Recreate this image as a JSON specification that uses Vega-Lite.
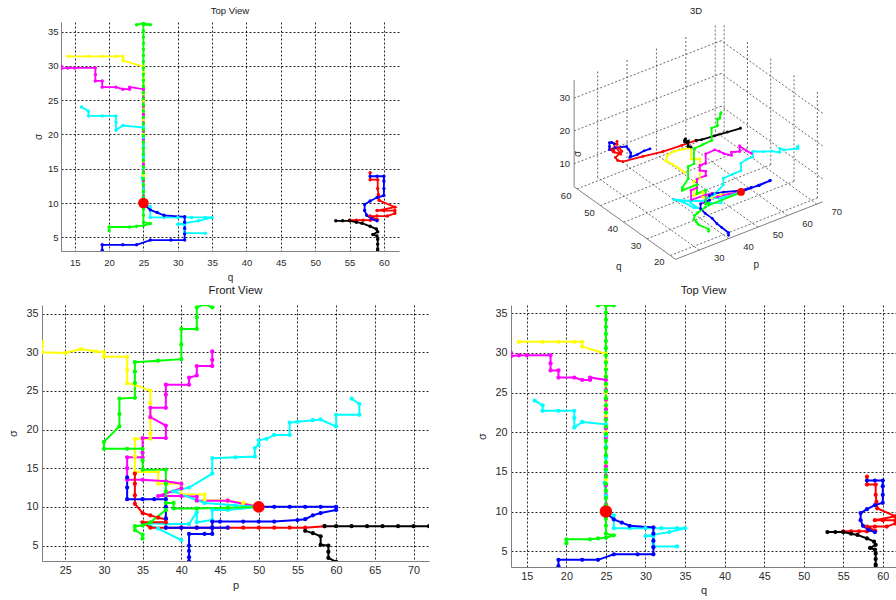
{
"$schema":"https://vega.github.io/schema/vega-lite/v6.json",
"background":"white",
"padding":{"left":0,"top":5,"right":0,"bottom":0},
"config":{"view":{"stroke":null},"font":"Liberation Sans",
"axis":{"grid":true,"gridColor":"#000000","gridDash":[2,2],"gridOpacity":0.85,"gridWidth":1,"ticks":false,"domainColor":"#808080","domainWidth":1,"labelColor":"#2b2b2b","titleColor":"#2b2b2b","titleFontWeight":"normal","labelFont":"Liberation Sans","titleFont":"Liberation Sans"},
"title":{"font":"Liberation Sans","fontWeight":"normal","color":"#1a1a1a","anchor":"middle"}},
"datasets":{
"goal":[{"p":50,"q":25,"s":10}],
"none":[],
"front":[
{"k":"y1","c":"yellow","i":0,"p":22,"s":31.3},{"k":"y1","c":"yellow","i":1,"p":22,"s":30.8},{"k":"y1","c":"yellow","i":2,"p":22,"s":30},{"k":"y1","c":"yellow","i":3,"p":25,"s":29.9},{"k":"y1","c":"yellow","i":4,"p":27,"s":30.4},{"k":"y1","c":"yellow","i":5,"p":29,"s":30.1},{"k":"y1","c":"yellow","i":6,"p":30,"s":30},{"k":"y1","c":"yellow","i":7,"p":30,"s":29.4},{"k":"y1","c":"yellow","i":8,"p":33,"s":29.4},{"k":"y1","c":"yellow","i":9,"p":33,"s":27.7},{"k":"y1","c":"yellow","i":10,"p":33,"s":26},{"k":"y1","c":"yellow","i":11,"p":34,"s":25.8},{"k":"y1","c":"yellow","i":12,"p":36,"s":25},{"k":"y1","c":"yellow","i":13,"p":36,"s":23.4},{"k":"y1","c":"yellow","i":14,"p":36,"s":21.5},{"k":"y1","c":"yellow","i":15,"p":36,"s":19.5},{"k":"y1","c":"yellow","i":16,"p":36,"s":18.8},{"k":"y1","c":"yellow","i":17,"p":34,"s":18.8},{"k":"y1","c":"yellow","i":18,"p":34,"s":16.5},{"k":"y1","c":"yellow","i":19,"p":34,"s":14.5},{"k":"y1","c":"yellow","i":20,"p":37,"s":14.5},{"k":"y1","c":"yellow","i":21,"p":37,"s":13},{"k":"y1","c":"yellow","i":22,"p":40,"s":13},{"k":"y1","c":"yellow","i":23,"p":40,"s":12.4},{"k":"y1","c":"yellow","i":24,"p":40,"s":11.6},{"k":"y1","c":"yellow","i":25,"p":43,"s":11.6},{"k":"y1","c":"yellow","i":26,"p":43,"s":10.9},{"k":"y1","c":"yellow","i":27,"p":46,"s":10.8},{"k":"y1","c":"yellow","i":28,"p":48,"s":10.5},{"k":"y1","c":"yellow","i":29,"p":50,"s":10},
{"k":"m1","c":"magenta","i":0,"p":44,"s":30.1},{"k":"m1","c":"magenta","i":1,"p":44,"s":29},{"k":"m1","c":"magenta","i":2,"p":44,"s":28.2},{"k":"m1","c":"magenta","i":3,"p":42,"s":28.2},{"k":"m1","c":"magenta","i":4,"p":42,"s":27},{"k":"m1","c":"magenta","i":5,"p":41,"s":26.7},{"k":"m1","c":"magenta","i":6,"p":41,"s":25.8},{"k":"m1","c":"magenta","i":7,"p":38,"s":25.8},{"k":"m1","c":"magenta","i":8,"p":38,"s":24.5},{"k":"m1","c":"magenta","i":9,"p":38,"s":22.8},{"k":"m1","c":"magenta","i":10,"p":36,"s":22.8},{"k":"m1","c":"magenta","i":11,"p":36,"s":21.6},{"k":"m1","c":"magenta","i":12,"p":38,"s":20.5},{"k":"m1","c":"magenta","i":13,"p":38,"s":18.9},{"k":"m1","c":"magenta","i":14,"p":35,"s":18.9},{"k":"m1","c":"magenta","i":15,"p":35,"s":17},{"k":"m1","c":"magenta","i":16,"p":35,"s":16.4},{"k":"m1","c":"magenta","i":17,"p":33,"s":16.4},{"k":"m1","c":"magenta","i":18,"p":33,"s":15},{"k":"m1","c":"magenta","i":19,"p":33,"s":13.5},{"k":"m1","c":"magenta","i":20,"p":35,"s":13.5},{"k":"m1","c":"magenta","i":21,"p":38,"s":13.3},{"k":"m1","c":"magenta","i":22,"p":40,"s":13},{"k":"m1","c":"magenta","i":23,"p":40,"s":12.4},{"k":"m1","c":"magenta","i":24,"p":37,"s":11.4},{"k":"m1","c":"magenta","i":25,"p":40,"s":11.4},{"k":"m1","c":"magenta","i":26,"p":42,"s":11.3},{"k":"m1","c":"magenta","i":27,"p":42,"s":10.8},{"k":"m1","c":"magenta","i":28,"p":46,"s":10.8},{"k":"m1","c":"magenta","i":29,"p":50,"s":10},
{"k":"c1","c":"cyan","i":0,"p":62,"s":24},{"k":"c1","c":"cyan","i":1,"p":63,"s":23.3},{"k":"c1","c":"cyan","i":2,"p":63,"s":21.9},{"k":"c1","c":"cyan","i":3,"p":60,"s":21.9},{"k":"c1","c":"cyan","i":4,"p":60,"s":20.4},{"k":"c1","c":"cyan","i":5,"p":58,"s":21.3},{"k":"c1","c":"cyan","i":6,"p":57,"s":21.2},{"k":"c1","c":"cyan","i":7,"p":55,"s":21},{"k":"c1","c":"cyan","i":8,"p":54,"s":20.9},{"k":"c1","c":"cyan","i":9,"p":54,"s":19.3},{"k":"c1","c":"cyan","i":10,"p":52,"s":19.3},{"k":"c1","c":"cyan","i":11,"p":51,"s":18.8},{"k":"c1","c":"cyan","i":12,"p":50,"s":18.6},{"k":"c1","c":"cyan","i":13,"p":50,"s":18},{"k":"c1","c":"cyan","i":14,"p":49.5,"s":17.6},{"k":"c1","c":"cyan","i":15,"p":49.5,"s":16.5},{"k":"c1","c":"cyan","i":16,"p":47,"s":16.4},{"k":"c1","c":"cyan","i":17,"p":44,"s":16.3},{"k":"c1","c":"cyan","i":18,"p":44,"s":14.3},{"k":"c1","c":"cyan","i":19,"p":41,"s":12.5},{"k":"c1","c":"cyan","i":20,"p":39,"s":12},{"k":"c1","c":"cyan","i":21,"p":43,"s":10.5},{"k":"c1","c":"cyan","i":22,"p":47,"s":10.2},{"k":"c1","c":"cyan","i":23,"p":50,"s":10},
{"k":"c2","c":"cyan","i":0,"p":50,"s":10},{"k":"c2","c":"cyan","i":1,"p":46,"s":9.6},{"k":"c2","c":"cyan","i":2,"p":44,"s":9.6},{"k":"c2","c":"cyan","i":3,"p":44,"s":8.3},{"k":"c2","c":"cyan","i":4,"p":42,"s":8},{"k":"c2","c":"cyan","i":5,"p":42,"s":9.3},{"k":"c2","c":"cyan","i":6,"p":41,"s":7.8},{"k":"c2","c":"cyan","i":7,"p":38,"s":7.8},{"k":"c2","c":"cyan","i":8,"p":35,"s":7.9},{"k":"c2","c":"cyan","i":9,"p":37,"s":7.2},{"k":"c2","c":"cyan","i":10,"p":40,"s":5.7},
{"k":"r1","c":"red","i":0,"p":34,"s":14.3},{"k":"r1","c":"red","i":1,"p":34,"s":13},{"k":"r1","c":"red","i":2,"p":34,"s":11.5},{"k":"r1","c":"red","i":3,"p":34,"s":10.4},{"k":"r1","c":"red","i":4,"p":35,"s":9.2},{"k":"r1","c":"red","i":5,"p":36,"s":8.9},{"k":"r1","c":"red","i":6,"p":37,"s":8.6},{"k":"r1","c":"red","i":7,"p":38,"s":8.4},{"k":"r1","c":"red","i":8,"p":38,"s":8},{"k":"r1","c":"red","i":9,"p":35,"s":8},{"k":"r1","c":"red","i":10,"p":36,"s":7.3},{"k":"r1","c":"red","i":11,"p":38,"s":7.3},{"k":"r1","c":"red","i":12,"p":40,"s":7.3},{"k":"r1","c":"red","i":13,"p":42,"s":7.3},{"k":"r1","c":"red","i":14,"p":44,"s":7.3},{"k":"r1","c":"red","i":15,"p":46,"s":7.3},{"k":"r1","c":"red","i":16,"p":48,"s":7.3},{"k":"r1","c":"red","i":17,"p":50,"s":7.3},{"k":"r1","c":"red","i":18,"p":52,"s":7.3},{"k":"r1","c":"red","i":19,"p":54,"s":7.3},{"k":"r1","c":"red","i":20,"p":56,"s":7.3},{"k":"r1","c":"red","i":21,"p":58.5,"s":7.5},
{"k":"k1","c":"black","i":0,"p":58.5,"s":7.5},{"k":"k1","c":"black","i":1,"p":60,"s":7.5},{"k":"k1","c":"black","i":2,"p":62,"s":7.5},{"k":"k1","c":"black","i":3,"p":64,"s":7.5},{"k":"k1","c":"black","i":4,"p":66,"s":7.5},{"k":"k1","c":"black","i":5,"p":68,"s":7.5},{"k":"k1","c":"black","i":6,"p":70,"s":7.5},{"k":"k1","c":"black","i":7,"p":72,"s":7.5},
{"k":"k2","c":"black","i":0,"p":56,"s":6.9},{"k":"k2","c":"black","i":1,"p":57,"s":6.6},{"k":"k2","c":"black","i":2,"p":58,"s":6.2},{"k":"k2","c":"black","i":3,"p":58,"s":5.1},{"k":"k2","c":"black","i":4,"p":59,"s":5},{"k":"k2","c":"black","i":5,"p":59,"s":4.2},{"k":"k2","c":"black","i":6,"p":59,"s":3.4},{"k":"k2","c":"black","i":7,"p":60,"s":2.9},
{"k":"b1","c":"blue","i":0,"p":41,"s":3},{"k":"b1","c":"blue","i":1,"p":41,"s":3.5},{"k":"b1","c":"blue","i":2,"p":41,"s":4.3},{"k":"b1","c":"blue","i":3,"p":41,"s":5},{"k":"b1","c":"blue","i":4,"p":41,"s":6.5},{"k":"b1","c":"blue","i":5,"p":43,"s":6.5},{"k":"b1","c":"blue","i":6,"p":44,"s":6.5},{"k":"b1","c":"blue","i":7,"p":44,"s":7.3},{"k":"b1","c":"blue","i":8,"p":44,"s":8.1},{"k":"b1","c":"blue","i":9,"p":45,"s":8.1},{"k":"b1","c":"blue","i":10,"p":48,"s":8.1},{"k":"b1","c":"blue","i":11,"p":50,"s":8.1},{"k":"b1","c":"blue","i":12,"p":52,"s":8.1},{"k":"b1","c":"blue","i":13,"p":55,"s":8.3},{"k":"b1","c":"blue","i":14,"p":56,"s":8.4},{"k":"b1","c":"blue","i":15,"p":57,"s":8.9},{"k":"b1","c":"blue","i":16,"p":58,"s":9.2},{"k":"b1","c":"blue","i":17,"p":60,"s":9.6},{"k":"b1","c":"blue","i":18,"p":60,"s":10},{"k":"b1","c":"blue","i":19,"p":58,"s":10},{"k":"b1","c":"blue","i":20,"p":56,"s":10},{"k":"b1","c":"blue","i":21,"p":54,"s":10},{"k":"b1","c":"blue","i":22,"p":52,"s":10},{"k":"b1","c":"blue","i":23,"p":50,"s":10},
{"k":"b2","c":"blue","i":0,"p":33,"s":13.8},{"k":"b2","c":"blue","i":1,"p":33,"s":12.5},{"k":"b2","c":"blue","i":2,"p":33,"s":11},{"k":"b2","c":"blue","i":3,"p":35,"s":11},{"k":"b2","c":"blue","i":4,"p":36.5,"s":11},{"k":"b2","c":"blue","i":5,"p":38,"s":11},{"k":"b2","c":"blue","i":6,"p":38,"s":10},{"k":"b2","c":"blue","i":7,"p":38,"s":8.5},{"k":"b2","c":"blue","i":8,"p":38,"s":7.3},{"k":"b2","c":"blue","i":9,"p":40,"s":7.3},{"k":"b2","c":"blue","i":10,"p":42,"s":7.3},{"k":"b2","c":"blue","i":11,"p":44,"s":7.3},{"k":"b2","c":"blue","i":12,"p":46,"s":7.3},
{"k":"g1","c":"green","i":0,"p":44,"s":35.8},{"k":"g1","c":"green","i":1,"p":43,"s":36.2},{"k":"g1","c":"green","i":2,"p":42,"s":35.8},{"k":"g1","c":"green","i":3,"p":42,"s":34.5},{"k":"g1","c":"green","i":4,"p":42,"s":33},{"k":"g1","c":"green","i":5,"p":40,"s":33},{"k":"g1","c":"green","i":6,"p":40,"s":31},{"k":"g1","c":"green","i":7,"p":40,"s":29.1},{"k":"g1","c":"green","i":8,"p":37,"s":28.9},{"k":"g1","c":"green","i":9,"p":34,"s":28.7},{"k":"g1","c":"green","i":10,"p":34,"s":27.5},{"k":"g1","c":"green","i":11,"p":34,"s":26},{"k":"g1","c":"green","i":12,"p":34,"s":24.1},{"k":"g1","c":"green","i":13,"p":32,"s":24},{"k":"g1","c":"green","i":14,"p":32,"s":22},{"k":"g1","c":"green","i":15,"p":32,"s":20.4},{"k":"g1","c":"green","i":16,"p":30,"s":18.4},{"k":"g1","c":"green","i":17,"p":30,"s":17.5},{"k":"g1","c":"green","i":18,"p":33,"s":17.5},{"k":"g1","c":"green","i":19,"p":35,"s":17.5},{"k":"g1","c":"green","i":20,"p":35,"s":16},{"k":"g1","c":"green","i":21,"p":35,"s":14.8},{"k":"g1","c":"green","i":22,"p":38,"s":14.8},{"k":"g1","c":"green","i":23,"p":38,"s":13},{"k":"g1","c":"green","i":24,"p":38,"s":12},{"k":"g1","c":"green","i":25,"p":38,"s":10.5},{"k":"g1","c":"green","i":26,"p":39,"s":10.5},{"k":"g1","c":"green","i":27,"p":39,"s":9.8},{"k":"g1","c":"green","i":28,"p":42,"s":9.8},{"k":"g1","c":"green","i":29,"p":46,"s":9.9},{"k":"g1","c":"green","i":30,"p":50,"s":10},
{"k":"g2","c":"green","i":0,"p":38,"s":9.6},{"k":"g2","c":"green","i":1,"p":36,"s":8},{"k":"g2","c":"green","i":2,"p":35,"s":7.6},{"k":"g2","c":"green","i":3,"p":34,"s":7.5},{"k":"g2","c":"green","i":4,"p":34,"s":7},{"k":"g2","c":"green","i":5,"p":35,"s":6.4},{"k":"g2","c":"green","i":6,"p":35,"s":5.9}
],
"top":[
{"k":"ty","c":"yellow","i":0,"q":14,"s":31.4},{"k":"ty","c":"yellow","i":1,"q":17,"s":31.4},{"k":"ty","c":"yellow","i":2,"q":19,"s":31.4},{"k":"ty","c":"yellow","i":3,"q":21,"s":31.4},{"k":"ty","c":"yellow","i":4,"q":22,"s":31.4},{"k":"ty","c":"yellow","i":5,"q":22,"s":30.8},{"k":"ty","c":"yellow","i":6,"q":25,"s":29.9},{"k":"ty","c":"yellow","i":7,"q":25,"s":29},{"k":"ty","c":"yellow","i":8,"q":25,"s":28},{"k":"ty","c":"yellow","i":9,"q":25,"s":27},{"k":"ty","c":"yellow","i":10,"q":25,"s":26},{"k":"ty","c":"yellow","i":11,"q":25,"s":25},{"k":"ty","c":"yellow","i":12,"q":25,"s":24},{"k":"ty","c":"yellow","i":13,"q":25,"s":23},{"k":"ty","c":"yellow","i":14,"q":25,"s":22},{"k":"ty","c":"yellow","i":15,"q":25,"s":20},{"k":"ty","c":"yellow","i":16,"q":25,"s":18},{"k":"ty","c":"yellow","i":17,"q":25,"s":16},{"k":"ty","c":"yellow","i":18,"q":25,"s":14},{"k":"ty","c":"yellow","i":19,"q":25,"s":12},{"k":"ty","c":"yellow","i":20,"q":25,"s":10},
{"k":"tm","c":"magenta","i":0,"q":13,"s":30},{"k":"tm","c":"magenta","i":1,"q":13,"s":29.6},{"k":"tm","c":"magenta","i":2,"q":14,"s":29.7},{"k":"tm","c":"magenta","i":3,"q":15,"s":29.7},{"k":"tm","c":"magenta","i":4,"q":18,"s":29.7},{"k":"tm","c":"magenta","i":5,"q":18,"s":28.7},{"k":"tm","c":"magenta","i":6,"q":18,"s":27.8},{"k":"tm","c":"magenta","i":7,"q":19,"s":27.8},{"k":"tm","c":"magenta","i":8,"q":19,"s":26.9},{"k":"tm","c":"magenta","i":9,"q":21,"s":26.9},{"k":"tm","c":"magenta","i":10,"q":22,"s":26.6},{"k":"tm","c":"magenta","i":11,"q":23,"s":26.6},{"k":"tm","c":"magenta","i":12,"q":23,"s":26.9},{"k":"tm","c":"magenta","i":13,"q":25,"s":26.6},{"k":"tm","c":"magenta","i":14,"q":25,"s":25.3},{"k":"tm","c":"magenta","i":15,"q":25,"s":24.1},{"k":"tm","c":"magenta","i":16,"q":25,"s":22.9},{"k":"tm","c":"magenta","i":17,"q":25,"s":21.7},{"k":"tm","c":"magenta","i":18,"q":25,"s":20.5},{"k":"tm","c":"magenta","i":19,"q":25,"s":19.3},{"k":"tm","c":"magenta","i":20,"q":25,"s":18.1},{"k":"tm","c":"magenta","i":21,"q":25,"s":16.9},{"k":"tm","c":"magenta","i":22,"q":25,"s":15.7},{"k":"tm","c":"magenta","i":23,"q":25,"s":14.5},{"k":"tm","c":"magenta","i":24,"q":25,"s":13.3},{"k":"tm","c":"magenta","i":25,"q":25,"s":12.1},{"k":"tm","c":"magenta","i":26,"q":25,"s":10.9},{"k":"tm","c":"magenta","i":27,"q":25,"s":10},
{"k":"tc1","c":"cyan","i":0,"q":16,"s":24},{"k":"tc1","c":"cyan","i":1,"q":17,"s":23.4},{"k":"tc1","c":"cyan","i":2,"q":17,"s":22.7},{"k":"tc1","c":"cyan","i":3,"q":19,"s":22.7},{"k":"tc1","c":"cyan","i":4,"q":21,"s":22.7},{"k":"tc1","c":"cyan","i":5,"q":21,"s":21.8},{"k":"tc1","c":"cyan","i":6,"q":21,"s":20.6},{"k":"tc1","c":"cyan","i":7,"q":22,"s":21.3},{"k":"tc1","c":"cyan","i":8,"q":25,"s":21},{"k":"tc1","c":"cyan","i":9,"q":25,"s":19.6},{"k":"tc1","c":"cyan","i":10,"q":25,"s":18.2},{"k":"tc1","c":"cyan","i":11,"q":25,"s":16.8},{"k":"tc1","c":"cyan","i":12,"q":25,"s":15.2},{"k":"tc1","c":"cyan","i":13,"q":24.8,"s":13.6},{"k":"tc1","c":"cyan","i":14,"q":25,"s":12},{"k":"tc1","c":"cyan","i":15,"q":25,"s":10},
{"k":"tc2","c":"cyan","i":0,"q":25,"s":10},{"k":"tc2","c":"cyan","i":1,"q":26,"s":9.5},{"k":"tc2","c":"cyan","i":2,"q":26,"s":7.9},{"k":"tc2","c":"cyan","i":3,"q":28,"s":7.9},{"k":"tc2","c":"cyan","i":4,"q":30,"s":7.9},{"k":"tc2","c":"cyan","i":5,"q":32,"s":7.9},{"k":"tc2","c":"cyan","i":6,"q":34,"s":7.9},{"k":"tc2","c":"cyan","i":7,"q":35,"s":7.9},{"k":"tc2","c":"cyan","i":8,"q":33,"s":7.4},{"k":"tc2","c":"cyan","i":9,"q":30,"s":6.9},{"k":"tc2","c":"cyan","i":10,"q":31,"s":6.9},{"k":"tc2","c":"cyan","i":11,"q":31,"s":6.2},{"k":"tc2","c":"cyan","i":12,"q":31,"s":5.6},{"k":"tc2","c":"cyan","i":13,"q":34,"s":5.6},
{"k":"tr","c":"red","i":0,"q":55,"s":7.5},{"k":"tr","c":"red","i":1,"q":56,"s":7.5},{"k":"tr","c":"red","i":2,"q":57,"s":7.5},{"k":"tr","c":"red","i":3,"q":58,"s":7.5},{"k":"tr","c":"red","i":4,"q":59,"s":7.6},{"k":"tr","c":"red","i":5,"q":58,"s":8.1},{"k":"tr","c":"red","i":6,"q":59,"s":8.1},{"k":"tr","c":"red","i":7,"q":60.5,"s":8.1},{"k":"tr","c":"red","i":8,"q":61.6,"s":8.5},{"k":"tr","c":"red","i":9,"q":61.6,"s":8.9},{"k":"tr","c":"red","i":10,"q":60,"s":8.9},{"k":"tr","c":"red","i":11,"q":59,"s":8.9},{"k":"tr","c":"red","i":12,"q":61.6,"s":9.4},{"k":"tr","c":"red","i":13,"q":59.3,"s":10.4},{"k":"tr","c":"red","i":14,"q":59.2,"s":11.2},{"k":"tr","c":"red","i":15,"q":59.1,"s":12.1},{"k":"tr","c":"red","i":16,"q":59.1,"s":13.4},{"k":"tr","c":"red","i":17,"q":58,"s":13.4},{"k":"tr","c":"red","i":18,"q":58,"s":14.4},
{"k":"tk","c":"black","i":0,"q":53,"s":7.4},{"k":"tk","c":"black","i":1,"q":54,"s":7.4},{"k":"tk","c":"black","i":2,"q":55,"s":7.4},{"k":"tk","c":"black","i":3,"q":56,"s":7.2},{"k":"tk","c":"black","i":4,"q":56.8,"s":7.05},{"k":"tk","c":"black","i":5,"q":58,"s":6.6},{"k":"tk","c":"black","i":6,"q":58.9,"s":6.2},{"k":"tk","c":"black","i":7,"q":59.1,"s":5.8},{"k":"tk","c":"black","i":8,"q":58.4,"s":5.4},{"k":"tk","c":"black","i":9,"q":59,"s":5.2},{"k":"tk","c":"black","i":10,"q":59.1,"s":4.7},{"k":"tk","c":"black","i":11,"q":59.1,"s":4},{"k":"tk","c":"black","i":12,"q":59.1,"s":3.3},{"k":"tk","c":"black","i":13,"q":59.1,"s":3},
{"k":"tb1","c":"blue","i":0,"q":19,"s":3.1},{"k":"tb1","c":"blue","i":1,"q":19,"s":3.9},{"k":"tb1","c":"blue","i":2,"q":22,"s":3.9},{"k":"tb1","c":"blue","i":3,"q":24,"s":3.9},{"k":"tb1","c":"blue","i":4,"q":26,"s":4.6},{"k":"tb1","c":"blue","i":5,"q":29,"s":4.6},{"k":"tb1","c":"blue","i":6,"q":31,"s":4.6},{"k":"tb1","c":"blue","i":7,"q":31,"s":5.5},{"k":"tb1","c":"blue","i":8,"q":31,"s":6.3},{"k":"tb1","c":"blue","i":9,"q":31,"s":7.2},{"k":"tb1","c":"blue","i":10,"q":31,"s":8},{"k":"tb1","c":"blue","i":11,"q":28,"s":8.2},{"k":"tb1","c":"blue","i":12,"q":27,"s":8.6},{"k":"tb1","c":"blue","i":13,"q":26,"s":9},{"k":"tb1","c":"blue","i":14,"q":25.3,"s":9.6},{"k":"tb1","c":"blue","i":15,"q":25,"s":10},
{"k":"tb2","c":"blue","i":0,"q":59,"s":7.4},{"k":"tb2","c":"blue","i":1,"q":58.2,"s":7.7},{"k":"tb2","c":"blue","i":2,"q":57.5,"s":8.2},{"k":"tb2","c":"blue","i":3,"q":57.2,"s":8.9},{"k":"tb2","c":"blue","i":4,"q":57.2,"s":9.8},{"k":"tb2","c":"blue","i":5,"q":58,"s":10.3},{"k":"tb2","c":"blue","i":6,"q":59,"s":10.8},{"k":"tb2","c":"blue","i":7,"q":60,"s":11.1},{"k":"tb2","c":"blue","i":8,"q":60,"s":12.1},{"k":"tb2","c":"blue","i":9,"q":60,"s":13.2},{"k":"tb2","c":"blue","i":10,"q":60,"s":13.9},{"k":"tb2","c":"blue","i":11,"q":59,"s":13.9},{"k":"tb2","c":"blue","i":12,"q":58,"s":13.9},
{"k":"tg","c":"green","i":0,"q":24,"s":36},{"k":"tg","c":"green","i":1,"q":25,"s":36.2},{"k":"tg","c":"green","i":2,"q":26,"s":36},{"k":"tg","c":"green","i":3,"q":25,"s":36},{"k":"tg","c":"green","i":4,"q":25,"s":35.1},{"k":"tg","c":"green","i":5,"q":25,"s":34.2},{"k":"tg","c":"green","i":6,"q":25,"s":33.3},{"k":"tg","c":"green","i":7,"q":25,"s":32.4},{"k":"tg","c":"green","i":8,"q":25,"s":31.5},{"k":"tg","c":"green","i":9,"q":25,"s":30.6},{"k":"tg","c":"green","i":10,"q":25,"s":29.7},{"k":"tg","c":"green","i":11,"q":25,"s":28.8},{"k":"tg","c":"green","i":12,"q":25,"s":27.9},{"k":"tg","c":"green","i":13,"q":25,"s":27},{"k":"tg","c":"green","i":14,"q":25,"s":26.1},{"k":"tg","c":"green","i":15,"q":25,"s":25.2},{"k":"tg","c":"green","i":16,"q":25,"s":24.3},{"k":"tg","c":"green","i":17,"q":25,"s":23.4},{"k":"tg","c":"green","i":18,"q":25,"s":22.5},{"k":"tg","c":"green","i":19,"q":25,"s":21.6},{"k":"tg","c":"green","i":20,"q":25,"s":20.7},{"k":"tg","c":"green","i":21,"q":25,"s":19.8},{"k":"tg","c":"green","i":22,"q":25,"s":18.9},{"k":"tg","c":"green","i":23,"q":25,"s":18},{"k":"tg","c":"green","i":24,"q":25,"s":17.1},{"k":"tg","c":"green","i":25,"q":25,"s":16.2},{"k":"tg","c":"green","i":26,"q":25,"s":15.3},{"k":"tg","c":"green","i":27,"q":25,"s":14.4},{"k":"tg","c":"green","i":28,"q":25,"s":13.5},{"k":"tg","c":"green","i":29,"q":25,"s":12.6},{"k":"tg","c":"green","i":30,"q":25,"s":11.7},{"k":"tg","c":"green","i":31,"q":25,"s":10.8},{"k":"tg","c":"green","i":32,"q":25,"s":10},{"k":"tg","c":"green","i":33,"q":25,"s":9.1},{"k":"tg","c":"green","i":34,"q":25,"s":8.2},{"k":"tg","c":"green","i":35,"q":25,"s":7.2},{"k":"tg","c":"green","i":36,"q":26,"s":7},{"k":"tg","c":"green","i":37,"q":25,"s":6.7},{"k":"tg","c":"green","i":38,"q":24,"s":6.6},{"k":"tg","c":"green","i":39,"q":23,"s":6.5},{"k":"tg","c":"green","i":40,"q":20,"s":6.5},{"k":"tg","c":"green","i":41,"q":20,"s":6}
],
"b3":[
{"set":"tr","k":"dy","c":"yellow","i":0,"p":22,"q":14,"s":31.4},{"set":"tr","k":"dy","c":"yellow","i":1,"p":22,"q":17,"s":31.4},{"set":"tr","k":"dy","c":"yellow","i":2,"p":22,"q":19,"s":31.3},{"set":"tr","k":"dy","c":"yellow","i":3,"p":22,"q":21,"s":31},{"set":"tr","k":"dy","c":"yellow","i":4,"p":22,"q":22,"s":30.8},{"set":"tr","k":"dy","c":"yellow","i":5,"p":25,"q":25,"s":30},{"set":"tr","k":"dy","c":"yellow","i":6,"p":27,"q":25,"s":30.4},{"set":"tr","k":"dy","c":"yellow","i":7,"p":30,"q":25,"s":30},{"set":"tr","k":"dy","c":"yellow","i":8,"p":33,"q":25,"s":29.4},{"set":"tr","k":"dy","c":"yellow","i":9,"p":33,"q":25,"s":26},{"set":"tr","k":"dy","c":"yellow","i":10,"p":36,"q":25,"s":25},{"set":"tr","k":"dy","c":"yellow","i":11,"p":36,"q":25,"s":19},{"set":"tr","k":"dy","c":"yellow","i":12,"p":34,"q":25,"s":18.8},{"set":"tr","k":"dy","c":"yellow","i":13,"p":34,"q":25,"s":14.5},{"set":"tr","k":"dy","c":"yellow","i":14,"p":37,"q":25,"s":14.5},{"set":"tr","k":"dy","c":"yellow","i":15,"p":37,"q":25,"s":13},{"set":"tr","k":"dy","c":"yellow","i":16,"p":40,"q":25,"s":13},{"set":"tr","k":"dy","c":"yellow","i":17,"p":40,"q":25,"s":11.6},{"set":"tr","k":"dy","c":"yellow","i":18,"p":43,"q":25,"s":11.6},{"set":"tr","k":"dy","c":"yellow","i":19,"p":46,"q":25,"s":10.8},{"set":"tr","k":"dy","c":"yellow","i":20,"p":50,"q":25,"s":10},
{"set":"tr","k":"dm","c":"magenta","i":0,"p":44,"q":13,"s":30},{"set":"tr","k":"dm","c":"magenta","i":1,"p":44,"q":15,"s":29.7},{"set":"tr","k":"dm","c":"magenta","i":2,"p":44,"q":18,"s":29.7},{"set":"tr","k":"dm","c":"magenta","i":3,"p":44,"q":18,"s":28},{"set":"tr","k":"dm","c":"magenta","i":4,"p":42,"q":19,"s":28},{"set":"tr","k":"dm","c":"magenta","i":5,"p":42,"q":19,"s":27},{"set":"tr","k":"dm","c":"magenta","i":6,"p":41,"q":21,"s":26.9},{"set":"tr","k":"dm","c":"magenta","i":7,"p":41,"q":23,"s":26.6},{"set":"tr","k":"dm","c":"magenta","i":8,"p":41,"q":25,"s":26},{"set":"tr","k":"dm","c":"magenta","i":9,"p":38,"q":25,"s":25.8},{"set":"tr","k":"dm","c":"magenta","i":10,"p":38,"q":25,"s":23},{"set":"tr","k":"dm","c":"magenta","i":11,"p":36,"q":25,"s":23},{"set":"tr","k":"dm","c":"magenta","i":12,"p":36,"q":25,"s":21.5},{"set":"tr","k":"dm","c":"magenta","i":13,"p":38,"q":25,"s":20.5},{"set":"tr","k":"dm","c":"magenta","i":14,"p":38,"q":25,"s":19.2},{"set":"tr","k":"dm","c":"magenta","i":15,"p":35,"q":25,"s":19.2},{"set":"tr","k":"dm","c":"magenta","i":16,"p":35,"q":25,"s":16.5},{"set":"tr","k":"dm","c":"magenta","i":17,"p":33,"q":25,"s":16.5},{"set":"tr","k":"dm","c":"magenta","i":18,"p":33,"q":25,"s":13.5},{"set":"tr","k":"dm","c":"magenta","i":19,"p":38,"q":25,"s":13.3},{"set":"tr","k":"dm","c":"magenta","i":20,"p":40,"q":25,"s":13},{"set":"tr","k":"dm","c":"magenta","i":21,"p":37,"q":25,"s":11.4},{"set":"tr","k":"dm","c":"magenta","i":22,"p":42,"q":25,"s":11.3},{"set":"tr","k":"dm","c":"magenta","i":23,"p":46,"q":25,"s":10.8},{"set":"tr","k":"dm","c":"magenta","i":24,"p":50,"q":25,"s":10},
{"set":"tr","k":"dc1","c":"cyan","i":0,"p":62,"q":16,"s":24},{"set":"tr","k":"dc1","c":"cyan","i":1,"p":63,"q":17,"s":23.4},{"set":"tr","k":"dc1","c":"cyan","i":2,"p":63,"q":17,"s":22.7},{"set":"tr","k":"dc1","c":"cyan","i":3,"p":60,"q":19,"s":22.4},{"set":"tr","k":"dc1","c":"cyan","i":4,"p":60,"q":21,"s":21.8},{"set":"tr","k":"dc1","c":"cyan","i":5,"p":60,"q":21,"s":20.6},{"set":"tr","k":"dc1","c":"cyan","i":6,"p":58,"q":22,"s":21.2},{"set":"tr","k":"dc1","c":"cyan","i":7,"p":56,"q":23,"s":21.2},{"set":"tr","k":"dc1","c":"cyan","i":8,"p":54,"q":25,"s":21},{"set":"tr","k":"dc1","c":"cyan","i":9,"p":54,"q":25,"s":19.3},{"set":"tr","k":"dc1","c":"cyan","i":10,"p":52,"q":25,"s":19.3},{"set":"tr","k":"dc1","c":"cyan","i":11,"p":50,"q":25,"s":18.8},{"set":"tr","k":"dc1","c":"cyan","i":12,"p":50,"q":25,"s":16.5},{"set":"tr","k":"dc1","c":"cyan","i":13,"p":47,"q":25,"s":16.4},{"set":"tr","k":"dc1","c":"cyan","i":14,"p":44,"q":25,"s":16.3},{"set":"tr","k":"dc1","c":"cyan","i":15,"p":44,"q":25,"s":14.3},{"set":"tr","k":"dc1","c":"cyan","i":16,"p":41,"q":25,"s":12.5},{"set":"tr","k":"dc1","c":"cyan","i":17,"p":39,"q":25,"s":12},{"set":"tr","k":"dc1","c":"cyan","i":18,"p":43,"q":25,"s":10.5},{"set":"tr","k":"dc1","c":"cyan","i":19,"p":50,"q":25,"s":10},
{"set":"tr","k":"dc2","c":"cyan","i":0,"p":50,"q":25,"s":10},{"set":"tr","k":"dc2","c":"cyan","i":1,"p":45,"q":26,"s":9.6},{"set":"tr","k":"dc2","c":"cyan","i":2,"p":44,"q":26,"s":8.3},{"set":"tr","k":"dc2","c":"cyan","i":3,"p":42,"q":28,"s":7.9},{"set":"tr","k":"dc2","c":"cyan","i":4,"p":41,"q":30,"s":7.9},{"set":"tr","k":"dc2","c":"cyan","i":5,"p":38,"q":32,"s":7.9},{"set":"tr","k":"dc2","c":"cyan","i":6,"p":35,"q":35,"s":7.9},{"set":"tr","k":"dc2","c":"cyan","i":7,"p":37,"q":33,"s":7.3},{"set":"tr","k":"dc2","c":"cyan","i":8,"p":38,"q":30,"s":6.8},{"set":"tr","k":"dc2","c":"cyan","i":9,"p":39,"q":31,"s":6.2},{"set":"tr","k":"dc2","c":"cyan","i":10,"p":40,"q":31,"s":5.6},{"set":"tr","k":"dc2","c":"cyan","i":11,"p":40,"q":34,"s":5.6},
{"set":"tr","k":"dr","c":"red","i":0,"p":58.5,"q":55,"s":7.5},{"set":"tr","k":"dr","c":"red","i":1,"p":54,"q":55.5,"s":7.3},{"set":"tr","k":"dr","c":"red","i":2,"p":48,"q":56,"s":7.3},{"set":"tr","k":"dr","c":"red","i":3,"p":42,"q":57,"s":7.4},{"set":"tr","k":"dr","c":"red","i":4,"p":36,"q":58,"s":7.4},{"set":"tr","k":"dr","c":"red","i":5,"p":35,"q":59,"s":7.6},{"set":"tr","k":"dr","c":"red","i":6,"p":35,"q":60,"s":8},{"set":"tr","k":"dr","c":"red","i":7,"p":38,"q":61,"s":8.3},{"set":"tr","k":"dr","c":"red","i":8,"p":38,"q":62,"s":8.8},{"set":"tr","k":"dr","c":"red","i":9,"p":37,"q":62,"s":9.2},{"set":"tr","k":"dr","c":"red","i":10,"p":36,"q":59,"s":9.2},{"set":"tr","k":"dr","c":"red","i":11,"p":35,"q":61,"s":9.3},{"set":"tr","k":"dr","c":"red","i":12,"p":35,"q":62,"s":9.5},{"set":"tr","k":"dr","c":"red","i":13,"p":34,"q":59.3,"s":10.4},{"set":"tr","k":"dr","c":"red","i":14,"p":34,"q":59.2,"s":11.5},{"set":"tr","k":"dr","c":"red","i":15,"p":34,"q":59.1,"s":13},{"set":"tr","k":"dr","c":"red","i":16,"p":34,"q":58,"s":13.4},{"set":"tr","k":"dr","c":"red","i":17,"p":34,"q":58,"s":14.3},
{"set":"tr","k":"dk1","c":"black","i":0,"p":72,"q":53,"s":7.5},{"set":"tr","k":"dk1","c":"black","i":1,"p":68,"q":53.5,"s":7.5},{"set":"tr","k":"dk1","c":"black","i":2,"p":64,"q":54,"s":7.5},{"set":"tr","k":"dk1","c":"black","i":3,"p":60,"q":54.5,"s":7.5},{"set":"tr","k":"dk1","c":"black","i":4,"p":58.5,"q":55,"s":7.5},
{"set":"tr","k":"dk2","c":"black","i":0,"p":56,"q":56.8,"s":7},{"set":"tr","k":"dk2","c":"black","i":1,"p":57,"q":58,"s":6.6},{"set":"tr","k":"dk2","c":"black","i":2,"p":58,"q":58.9,"s":6.2},{"set":"tr","k":"dk2","c":"black","i":3,"p":58,"q":59.1,"s":5.8},{"set":"tr","k":"dk2","c":"black","i":4,"p":58,"q":58.4,"s":5.4},{"set":"tr","k":"dk2","c":"black","i":5,"p":59,"q":59,"s":5.1},{"set":"tr","k":"dk2","c":"black","i":6,"p":59,"q":59.1,"s":4.7},{"set":"tr","k":"dk2","c":"black","i":7,"p":59,"q":59.1,"s":3.4},{"set":"tr","k":"dk2","c":"black","i":8,"p":60,"q":59.1,"s":2.9},
{"set":"tr","k":"db1","c":"blue","i":0,"p":41,"q":19,"s":3},{"set":"tr","k":"db1","c":"blue","i":1,"p":41,"q":19,"s":3.8},{"set":"tr","k":"db1","c":"blue","i":2,"p":41,"q":22,"s":3.9},{"set":"tr","k":"db1","c":"blue","i":3,"p":41,"q":24,"s":4},{"set":"tr","k":"db1","c":"blue","i":4,"p":41,"q":26,"s":4.6},{"set":"tr","k":"db1","c":"blue","i":5,"p":41,"q":29,"s":4.6},{"set":"tr","k":"db1","c":"blue","i":6,"p":41,"q":31,"s":5},{"set":"tr","k":"db1","c":"blue","i":7,"p":41,"q":31,"s":6.5},{"set":"tr","k":"db1","c":"blue","i":8,"p":44,"q":31,"s":6.5},{"set":"tr","k":"db1","c":"blue","i":9,"p":44,"q":31,"s":8},{"set":"tr","k":"db1","c":"blue","i":10,"p":45,"q":31,"s":8.1},{"set":"tr","k":"db1","c":"blue","i":11,"p":48,"q":30,"s":8.1},{"set":"tr","k":"db1","c":"blue","i":12,"p":52,"q":28,"s":8.2},{"set":"tr","k":"db1","c":"blue","i":13,"p":55,"q":27,"s":8.6},{"set":"tr","k":"db1","c":"blue","i":14,"p":57,"q":26,"s":9},{"set":"tr","k":"db1","c":"blue","i":15,"p":60,"q":25.5,"s":9.6},{"set":"tr","k":"db1","c":"blue","i":16,"p":60,"q":25,"s":10},{"set":"tr","k":"db1","c":"blue","i":17,"p":56,"q":25,"s":10},{"set":"tr","k":"db1","c":"blue","i":18,"p":50,"q":25,"s":10},
{"set":"tr","k":"db2","c":"blue","i":0,"p":46,"q":59,"s":7.3},{"set":"tr","k":"db2","c":"blue","i":1,"p":44,"q":59,"s":7.4},{"set":"tr","k":"db2","c":"blue","i":2,"p":41,"q":58.2,"s":7.7},{"set":"tr","k":"db2","c":"blue","i":3,"p":38,"q":57.5,"s":8.3},{"set":"tr","k":"db2","c":"blue","i":4,"p":38,"q":57.2,"s":8.9},{"set":"tr","k":"db2","c":"blue","i":5,"p":38,"q":57.2,"s":9.8},{"set":"tr","k":"db2","c":"blue","i":6,"p":38,"q":58,"s":10.3},{"set":"tr","k":"db2","c":"blue","i":7,"p":38,"q":59,"s":10.8},{"set":"tr","k":"db2","c":"blue","i":8,"p":35,"q":60,"s":11},{"set":"tr","k":"db2","c":"blue","i":9,"p":33,"q":60,"s":11.1},{"set":"tr","k":"db2","c":"blue","i":10,"p":33,"q":60,"s":12},{"set":"tr","k":"db2","c":"blue","i":11,"p":33,"q":60,"s":13.2},{"set":"tr","k":"db2","c":"blue","i":12,"p":33,"q":59,"s":13.8},{"set":"tr","k":"db2","c":"blue","i":13,"p":33,"q":58,"s":13.9},
{"set":"tr","k":"dg1","c":"green","i":0,"p":44,"q":26,"s":35.8},{"set":"tr","k":"dg1","c":"green","i":1,"p":43,"q":25,"s":36.2},{"set":"tr","k":"dg1","c":"green","i":2,"p":42,"q":24,"s":35.8},{"set":"tr","k":"dg1","c":"green","i":3,"p":42,"q":25,"s":35},{"set":"tr","k":"dg1","c":"green","i":4,"p":42,"q":25,"s":33},{"set":"tr","k":"dg1","c":"green","i":5,"p":40,"q":25,"s":33},{"set":"tr","k":"dg1","c":"green","i":6,"p":40,"q":25,"s":29.2},{"set":"tr","k":"dg1","c":"green","i":7,"p":37,"q":25,"s":29},{"set":"tr","k":"dg1","c":"green","i":8,"p":34,"q":25,"s":28.8},{"set":"tr","k":"dg1","c":"green","i":9,"p":34,"q":25,"s":24.2},{"set":"tr","k":"dg1","c":"green","i":10,"p":32,"q":25,"s":24},{"set":"tr","k":"dg1","c":"green","i":11,"p":32,"q":25,"s":20.3},{"set":"tr","k":"dg1","c":"green","i":12,"p":30,"q":25,"s":18.3},{"set":"tr","k":"dg1","c":"green","i":13,"p":30,"q":25,"s":17.5},{"set":"tr","k":"dg1","c":"green","i":14,"p":35,"q":25,"s":17.5},{"set":"tr","k":"dg1","c":"green","i":15,"p":35,"q":25,"s":14.8},{"set":"tr","k":"dg1","c":"green","i":16,"p":38,"q":25,"s":14.8},{"set":"tr","k":"dg1","c":"green","i":17,"p":38,"q":25,"s":10.5},{"set":"tr","k":"dg1","c":"green","i":18,"p":39,"q":25,"s":10.5},{"set":"tr","k":"dg1","c":"green","i":19,"p":39,"q":25,"s":9.8},{"set":"tr","k":"dg1","c":"green","i":20,"p":50,"q":25,"s":9.9},
{"set":"tr","k":"dg2","c":"green","i":0,"p":38,"q":25,"s":9.6},{"set":"tr","k":"dg2","c":"green","i":1,"p":36,"q":26,"s":8},{"set":"tr","k":"dg2","c":"green","i":2,"p":35,"q":26,"s":7.6},{"set":"tr","k":"dg2","c":"green","i":3,"p":34,"q":25,"s":7.2},{"set":"tr","k":"dg2","c":"green","i":4,"p":34,"q":24,"s":7},{"set":"tr","k":"dg2","c":"green","i":5,"p":34,"q":23,"s":6.6},{"set":"tr","k":"dg2","c":"green","i":6,"p":35,"q":20,"s":6.5},{"set":"tr","k":"dg2","c":"green","i":7,"p":35,"q":20,"s":5.8},
{"set":"goal","p":50,"q":25,"s":10},
{"set":"grid","k":"fp30","i":0,"p":30,"q":17.7,"s":3},{"set":"grid","k":"fp30","i":1,"p":30,"q":61.3,"s":3},
{"set":"grid","k":"fp40","i":0,"p":40,"q":17.7,"s":3},{"set":"grid","k":"fp40","i":1,"p":40,"q":61.3,"s":3},
{"set":"grid","k":"fp50","i":0,"p":50,"q":17.7,"s":3},{"set":"grid","k":"fp50","i":1,"p":50,"q":61.3,"s":3},
{"set":"grid","k":"fp60","i":0,"p":60,"q":17.7,"s":3},{"set":"grid","k":"fp60","i":1,"p":60,"q":61.3,"s":3},
{"set":"grid","k":"fp70","i":0,"p":70,"q":17.7,"s":3},{"set":"grid","k":"fp70","i":1,"p":70,"q":61.3,"s":3},
{"set":"grid","k":"fq20","i":0,"p":22,"q":20,"s":3},{"set":"grid","k":"fq20","i":1,"p":72,"q":20,"s":3},
{"set":"grid","k":"fq30","i":0,"p":22,"q":30,"s":3},{"set":"grid","k":"fq30","i":1,"p":72,"q":30,"s":3},
{"set":"grid","k":"fq40","i":0,"p":22,"q":40,"s":3},{"set":"grid","k":"fq40","i":1,"p":72,"q":40,"s":3},
{"set":"grid","k":"fq50","i":0,"p":22,"q":50,"s":3},{"set":"grid","k":"fq50","i":1,"p":72,"q":50,"s":3},
{"set":"grid","k":"fq60","i":0,"p":22,"q":60,"s":3},{"set":"grid","k":"fq60","i":1,"p":72,"q":60,"s":3},
{"set":"grid","k":"bp30","i":0,"p":30,"q":61.3,"s":3},{"set":"grid","k":"bp30","i":1,"p":30,"q":61.3,"s":35.5},
{"set":"grid","k":"bp40","i":0,"p":40,"q":61.3,"s":3},{"set":"grid","k":"bp40","i":1,"p":40,"q":61.3,"s":35.5},
{"set":"grid","k":"bp50","i":0,"p":50,"q":61.3,"s":3},{"set":"grid","k":"bp50","i":1,"p":50,"q":61.3,"s":35.5},
{"set":"grid","k":"bp60","i":0,"p":60,"q":61.3,"s":3},{"set":"grid","k":"bp60","i":1,"p":60,"q":61.3,"s":35.5},
{"set":"grid","k":"bp70","i":0,"p":70,"q":61.3,"s":3},{"set":"grid","k":"bp70","i":1,"p":70,"q":61.3,"s":35.5},
{"set":"grid","k":"bs10","i":0,"p":22,"q":61.3,"s":10},{"set":"grid","k":"bs10","i":1,"p":72,"q":61.3,"s":10},
{"set":"grid","k":"bs20","i":0,"p":22,"q":61.3,"s":20},{"set":"grid","k":"bs20","i":1,"p":72,"q":61.3,"s":20},
{"set":"grid","k":"bs30","i":0,"p":22,"q":61.3,"s":30},{"set":"grid","k":"bs30","i":1,"p":72,"q":61.3,"s":30},
{"set":"grid","k":"rq20","i":0,"p":72,"q":20,"s":3},{"set":"grid","k":"rq20","i":1,"p":72,"q":20,"s":35.5},
{"set":"grid","k":"rq30","i":0,"p":72,"q":30,"s":3},{"set":"grid","k":"rq30","i":1,"p":72,"q":30,"s":35.5},
{"set":"grid","k":"rq40","i":0,"p":72,"q":40,"s":3},{"set":"grid","k":"rq40","i":1,"p":72,"q":40,"s":35.5},
{"set":"grid","k":"rq50","i":0,"p":72,"q":50,"s":3},{"set":"grid","k":"rq50","i":1,"p":72,"q":50,"s":35.5},
{"set":"grid","k":"rq60","i":0,"p":72,"q":60,"s":3},{"set":"grid","k":"rq60","i":1,"p":72,"q":60,"s":35.5},
{"set":"grid","k":"rs10","i":0,"p":72,"q":17.7,"s":10},{"set":"grid","k":"rs10","i":1,"p":72,"q":61.3,"s":10},
{"set":"grid","k":"rs20","i":0,"p":72,"q":17.7,"s":20},{"set":"grid","k":"rs20","i":1,"p":72,"q":61.3,"s":20},
{"set":"grid","k":"rs30","i":0,"p":72,"q":17.7,"s":30},{"set":"grid","k":"rs30","i":1,"p":72,"q":61.3,"s":30},
{"set":"axis","k":"ap","i":0,"p":22,"q":17.7,"s":3},{"set":"axis","k":"ap","i":1,"p":72,"q":17.7,"s":3},
{"set":"axis","k":"aq","i":0,"p":22,"q":17.7,"s":3},{"set":"axis","k":"aq","i":1,"p":22,"q":61.3,"s":3},
{"set":"axis","k":"as","i":0,"p":22,"q":61.3,"s":3},{"set":"axis","k":"as","i":1,"p":22,"q":61.3,"s":35.5},
{"set":"ls","txt":"10","p":22,"q":61.3,"s":10},{"set":"ls","txt":"20","p":22,"q":61.3,"s":20},{"set":"ls","txt":"30","p":22,"q":61.3,"s":30},
{"set":"lq","txt":"20","p":22,"q":20,"s":3},{"set":"lq","txt":"30","p":22,"q":30,"s":3},{"set":"lq","txt":"40","p":22,"q":40,"s":3},{"set":"lq","txt":"50","p":22,"q":50,"s":3},{"set":"lq","txt":"60","p":22,"q":60,"s":3},
{"set":"lp","txt":"30","p":30,"q":17.7,"s":3},{"set":"lp","txt":"40","p":40,"q":17.7,"s":3},{"set":"lp","txt":"50","p":50,"q":17.7,"s":3},{"set":"lp","txt":"60","p":60,"q":17.7,"s":3},{"set":"lp","txt":"70","p":70,"q":17.7,"s":3},
{"set":"ts","txt":"σ","p":22,"q":61.3,"s":20},
{"set":"tq","txt":"q","p":22,"q":39.5,"s":3},
{"set":"tp","txt":"p","p":47,"q":17.7,"s":3}
]
},
"vconcat":[
{"hconcat":[
{"width":21,"height":1,"data":{"name":"none"},"mark":"point"},
{"hconcat":[
{"title":{"text":"Top View","fontSize":9.5,"offset":7},
"width":338,"height":229,
"data":{"name":"top"},
"encoding":{
"x":{"field":"q","type":"quantitative","scale":{"domain":[13,62.2],"nice":false,"zero":false},"axis":{"values":[15,20,25,30,35,40,45,50,55,60],"title":"q","labelFontSize":9.5,"titleFontSize":10,"labelPadding":6,"titlePadding":6}},
"y":{"field":"s","type":"quantitative","scale":{"domain":[3,36.4],"nice":false,"zero":false},"axis":{"values":[5,10,15,20,25,30,35],"title":"σ","labelFontSize":9.5,"titleFontSize":10,"labelPadding":3,"minExtent":40,"titleX":-20,"titleY":114.5,"titleBaseline":"alphabetic"}}},
"layer":[
{"mark":{"type":"line","strokeWidth":1.8,"clip":true},"encoding":{"color":{"field":"c","type":"nominal","scale":{"domain":["yellow","magenta","cyan","green","blue","red","black"],"range":["#ffff00","#ff00ff","#00ffff","#00ff00","#0000ff","#ff0000","#000000"]},"legend":null},"detail":{"field":"k"},"order":{"field":"i","type":"quantitative"}}},
{"mark":{"type":"circle","size":12,"opacity":1,"clip":true},"encoding":{"color":{"field":"c","type":"nominal","legend":null}}},
{"data":{"name":"goal"},"mark":{"type":"circle","size":113,"color":"#ff0000","opacity":1}}
]},
{"title":{"text":"3D","fontSize":9.5,"offset":7},
"width":314,"height":253,
"data":{"name":"b3"},
"transform":[{"calculate":"2.94*(datum.p-22)-2.33*(datum.q-17.7)","as":"u"},{"calculate":"1.15*(datum.p-22)+1.665*(datum.q-17.7)+3.28*(datum.s-3)","as":"v"}],
"encoding":{
"x":{"field":"u","type":"quantitative","scale":{"domain":[-136.7,177.3],"nice":false,"zero":false},"axis":null},
"y":{"field":"v","type":"quantitative","scale":{"domain":[-15.7,237.3],"nice":false,"zero":false},"axis":null}},
"layer":[
{"transform":[{"filter":"datum.set=='grid'"}],"mark":{"type":"line","color":"#444444","strokeWidth":0.8,"strokeDash":[2,2]},"encoding":{"detail":{"field":"k"},"order":{"field":"i","type":"quantitative"}}},
{"transform":[{"filter":"datum.set=='axis'"}],"mark":{"type":"line","color":"#808080","strokeWidth":1},"encoding":{"detail":{"field":"k"},"order":{"field":"i","type":"quantitative"}}},
{"transform":[{"filter":"datum.set=='tr'"}],"mark":{"type":"line","strokeWidth":1.8},"encoding":{"color":{"field":"c","type":"nominal","legend":null},"detail":{"field":"k"},"order":{"field":"i","type":"quantitative"}}},
{"transform":[{"filter":"datum.set=='tr'"}],"mark":{"type":"circle","size":8,"opacity":1},"encoding":{"color":{"field":"c","type":"nominal","legend":null}}},
{"transform":[{"filter":"datum.set=='goal'"}],"mark":{"type":"circle","size":60,"color":"#ff0000","opacity":1}},
{"transform":[{"filter":"datum.set=='ls'"}],"mark":{"type":"text","align":"right","baseline":"middle","dx":-4,"fontSize":9.5,"color":"#2b2b2b"},"encoding":{"text":{"field":"txt"}}},
{"transform":[{"filter":"datum.set=='lq'"}],"mark":{"type":"text","align":"center","baseline":"middle","dx":-11,"dy":7,"fontSize":9.5,"color":"#2b2b2b"},"encoding":{"text":{"field":"txt"}}},
{"transform":[{"filter":"datum.set=='lp'"}],"mark":{"type":"text","align":"center","baseline":"middle","dx":20,"dy":8,"fontSize":9.5,"color":"#2b2b2b"},"encoding":{"text":{"field":"txt"}}},
{"transform":[{"filter":"datum.set=='ts'"}],"mark":{"type":"text","align":"center","baseline":"middle","dx":-23,"dy":4,"angle":270,"fontSize":10,"color":"#2b2b2b"},"encoding":{"text":{"field":"txt"}}},
{"transform":[{"filter":"datum.set=='tq'"}],"mark":{"type":"text","align":"center","baseline":"middle","dx":-6,"dy":44,"fontSize":10,"color":"#2b2b2b"},"encoding":{"text":{"field":"txt"}}},
{"transform":[{"filter":"datum.set=='tp'"}],"mark":{"type":"text","align":"center","baseline":"middle","dx":7,"dy":34,"fontSize":10,"color":"#2b2b2b"},"encoding":{"text":{"field":"txt"}}}
]}
],"spacing":140}
],"spacing":0},
{"hconcat":[
{"width":6,"height":1,"data":{"name":"none"},"mark":"point"},
{"hconcat":[
{"title":{"text":"Front View","fontSize":11.3,"offset":9},
"width":387,"height":256,
"data":{"name":"front"},
"encoding":{
"x":{"field":"p","type":"quantitative","scale":{"domain":[22,72],"nice":false,"zero":false},"axis":{"values":[25,30,35,40,45,50,55,60,65,70],"title":"p","labelFontSize":10.8,"titleFontSize":11,"labelPadding":3,"titlePadding":5}},
"y":{"field":"s","type":"quantitative","scale":{"domain":[3,36.1],"nice":false,"zero":false},"axis":{"values":[5,10,15,20,25,30,35],"title":"σ","labelFontSize":10.8,"titleFontSize":11,"labelPadding":4,"minExtent":36,"titleX":-25.8,"titleY":128,"titleBaseline":"alphabetic"}}},
"layer":[
{"mark":{"type":"line","strokeWidth":2,"clip":true},"encoding":{"color":{"field":"c","type":"nominal","legend":null},"detail":{"field":"k"},"order":{"field":"i","type":"quantitative"}}},
{"mark":{"type":"circle","size":18,"opacity":1,"clip":true},"encoding":{"color":{"field":"c","type":"nominal","legend":null}}},
{"data":{"name":"goal"},"mark":{"type":"circle","size":139,"color":"#ff0000","opacity":1}}
]},
{"title":{"text":"Top View","fontSize":11.3,"offset":9},
"width":385,"height":262,
"data":{"name":"top"},
"encoding":{
"x":{"field":"q","type":"quantitative","scale":{"domain":[13,61.67],"nice":false,"zero":false},"axis":{"values":[15,20,25,30,35,40,45,50,55,60],"title":"q","labelFontSize":10.8,"titleFontSize":11,"labelPadding":3,"titlePadding":4}},
"y":{"field":"s","type":"quantitative","scale":{"domain":[3,36.05],"nice":false,"zero":false},"axis":{"values":[5,10,15,20,25,30,35],"title":"σ","labelFontSize":10.8,"titleFontSize":11,"labelPadding":4,"minExtent":36,"titleX":-25.4,"titleY":131,"titleBaseline":"alphabetic"}}},
"layer":[
{"mark":{"type":"line","strokeWidth":2,"clip":true},"encoding":{"color":{"field":"c","type":"nominal","legend":null},"detail":{"field":"k"},"order":{"field":"i","type":"quantitative"}}},
{"mark":{"type":"circle","size":18,"opacity":1,"clip":true},"encoding":{"color":{"field":"c","type":"nominal","legend":null}}},
{"data":{"name":"goal"},"mark":{"type":"circle","size":154,"color":"#ff0000","opacity":1,"clip":true}}
]}
],"spacing":46}
],"spacing":0}
],
"spacing":1
}
